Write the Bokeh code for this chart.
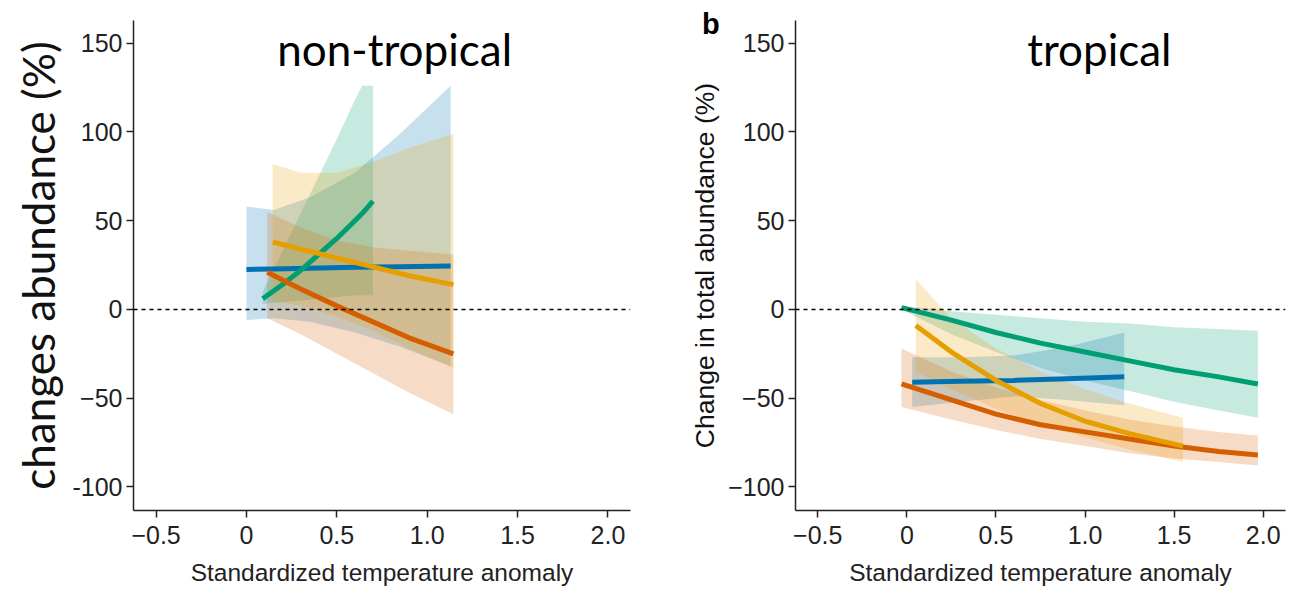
from bokeh.plotting import figure
from bokeh.layouts import row
from bokeh.models import Span, Label, FixedTicker, Range1d, CustomJSTickFormatter, Div
from bokeh.embed import file_html
from bokeh.resources import INLINE

# ---------------- data ----------------
x_ticks = [-0.5, 0, 0.5, 1.0, 1.5, 2.0]
y_ticks = [-100, -50, 0, 50, 100, 150]

# non-tropical panel
nt_blue_x = [0.0, 0.15, 0.35, 0.6, 0.85, 1.13]
nt_blue_y = [22.5, 22.8, 23.2, 23.7, 24.1, 24.5]
nt_blue_lo = [-6, -5, -7, -13, -21, -32]
nt_blue_hi = [58, 56, 63, 77, 99, 126]

nt_green_x = [0.09, 0.2, 0.3, 0.4, 0.5, 0.6, 0.64, 0.7]
nt_green_y = [6, 14, 22, 31, 40, 50, 54, 61]
nt_green_lo = [3, 4, 5, 6, 7, 8, 8, 8]
nt_green_hi = [10, 33, 54, 75, 96, 118, 126, 126]

nt_yellow_x = [0.145, 0.3, 0.5, 0.7, 0.9, 1.145]
nt_yellow_y = [38, 34, 29, 24, 19, 14]
nt_yellow_lo = [5, 2, -4, -12, -22, -33]
nt_yellow_hi = [82, 77, 77, 83, 91, 99]

nt_orange_x = [0.115, 0.3, 0.5, 0.7, 0.9, 1.145]
nt_orange_y = [21, 11.5, 2, -7, -16, -25]
nt_orange_lo = [-5, -14, -25, -36, -47, -59]
nt_orange_hi = [55, 46, 39, 35, 33, 31]

# tropical panel
tr_green_x = [-0.03, 0.25, 0.5, 0.75, 1.0, 1.25, 1.5, 1.75, 1.97]
tr_green_y = [1, -6, -13, -19, -24, -29, -34, -38, -42]
tr_green_lo = [0, -14, -24, -33, -40, -46, -52, -57, -61]
tr_green_hi = [2, -1, -3, -5, -7, -8, -10, -11, -12]

tr_blue_x = [0.03, 0.3, 0.6, 0.9, 1.22]
tr_blue_y = [-41, -40.5, -40, -39, -38]
tr_blue_lo = [-55, -52, -49, -51, -54]
tr_blue_hi = [-27, -27, -26, -21, -13]

tr_yellow_x = [0.05, 0.25, 0.5, 0.75, 1.0, 1.25, 1.55]
tr_yellow_y = [-9, -24, -40, -53, -63, -70, -77]
tr_yellow_lo = [-35, -45, -56, -65, -72, -79, -86]
tr_yellow_hi = [17, -5, -22, -35, -45, -53, -61]

tr_orange_x = [-0.03, 0.25, 0.5, 0.75, 1.0, 1.25, 1.5, 1.75, 1.97]
tr_orange_y = [-42, -51, -59, -65, -69, -73, -77, -80, -82]
tr_orange_lo = [-55, -62, -68, -73, -77, -81, -84, -86, -88]
tr_orange_hi = [-22, -35, -44, -51, -57, -62, -66, -69, -71]

BLUE, GREEN, YELLOW, ORANGE = "#0072B2", "#009E73", "#E69F00", "#D55E00"

X_RANGE = (-0.625, 2.125)
Y_RANGE = (-113.3, 162.8)

AX_FONT = "Liberation Sans"


def base_fig(width, mbl, mbr, ylabel, ylabel_font, ylabel_size, left_hyphen):
    p = figure(width=width, height=588, output_backend="svg", toolbar_location=None,
               x_range=Range1d(*X_RANGE), y_range=Range1d(*Y_RANGE),
               min_border_left=mbl, min_border_right=mbr, min_border_top=20,
               min_border_bottom=71)
    p.outline_line_color = None
    p.xgrid.visible = False
    p.ygrid.visible = False
    p.background_fill_color = "white"
    p.border_fill_color = "white"
    p.xaxis.ticker = FixedTicker(ticks=x_ticks)
    p.yaxis.ticker = FixedTicker(ticks=y_ticks)
    p.xaxis.formatter = CustomJSTickFormatter(code="""
        if (Math.abs(tick) < 1e-9) return "0";
        return (tick < 0 ? "\u2212" : "") + Math.abs(tick).toFixed(1);
    """)
    if left_hyphen:
        code = """
        if (tick == -100) return "-100";
        return tick < 0 ? "\u2212" + Math.abs(tick) : "" + tick;
        """
    else:
        code = """return tick < 0 ? "\u2212" + Math.abs(tick) : "" + tick;"""
    p.yaxis.formatter = CustomJSTickFormatter(code=code)
    for ax in (p.xaxis, p.yaxis):
        ax.axis_line_width = 1.5
        ax.axis_line_color = "#222222"
        ax.major_tick_line_color = "#222222"
        ax.major_tick_line_width = 1.5
        ax.major_tick_out = 7
        ax.major_tick_in = 0
        ax.minor_tick_line_color = None
        ax.major_label_text_font = AX_FONT
        ax.major_label_text_font_size = "25px"
        ax.major_label_text_color = "#222222"
        ax.axis_label_text_font_style = "normal"
    p.yaxis.major_label_standoff = 4
    p.xaxis.major_label_standoff = 8
    p.xaxis.axis_label = "Standardized temperature anomaly"
    p.xaxis.axis_label_text_font = AX_FONT
    p.xaxis.axis_label_text_font_size = "24.5px"
    p.xaxis.axis_label_text_color = "#222222"
    p.xaxis.axis_label_standoff = 12
    p.yaxis.axis_label = ylabel
    p.yaxis.axis_label_text_font = ylabel_font
    p.yaxis.axis_label_text_font_size = ylabel_size
    p.yaxis.axis_label_text_color = "#111111"
    p.yaxis.axis_label_standoff = 5
    return p


def add_series(p, series):
    for x, y, lo, hi, c in series:
        p.varea(x=x, y1=lo, y2=hi, fill_color=c, fill_alpha=0.22)
    p.add_layout(Span(location=0, dimension="width", line_dash="4 4",
                      line_width=1.5, line_color="black"))
    for x, y, lo, hi, c in series:
        p.line(x=x, y=y, line_color=c, line_width=5)


# left panel
p1 = base_fig(665, 133, 35, "changes abundance (%)", "Lato", "44px", True)
add_series(p1, [
    (nt_blue_x, nt_blue_y, nt_blue_lo, nt_blue_hi, BLUE),
    (nt_green_x, nt_green_y, nt_green_lo, nt_green_hi, GREEN),
    (nt_orange_x, nt_orange_y, nt_orange_lo, nt_orange_hi, ORANGE),
    (nt_yellow_x, nt_yellow_y, nt_yellow_lo, nt_yellow_hi, YELLOW),
])
p1.add_layout(Label(x=0.82, y=147, text="non-tropical", text_font="Lato",
                    text_font_size="44px", text_align="center",
                    text_baseline="middle", text_color="black"))

# right panel
p2 = base_fig(639, 130, 19, "Change in total abundance (%)", AX_FONT, "26.5px", False)
add_series(p2, [
    (tr_green_x, tr_green_y, tr_green_lo, tr_green_hi, GREEN),
    (tr_blue_x, tr_blue_y, tr_blue_lo, tr_blue_hi, BLUE),
    (tr_orange_x, tr_orange_y, tr_orange_lo, tr_orange_hi, ORANGE),
    (tr_yellow_x, tr_yellow_y, tr_yellow_lo, tr_yellow_hi, YELLOW),
])
p2.add_layout(Label(x=1.08, y=147, text="tropical", text_font="Lato",
                    text_font_size="44px", text_align="center",
                    text_baseline="middle", text_color="black"))

panel_b = Div(text="b", width=30, height=30,
              styles={"position": "absolute", "left": "697px", "top": "5px",
                      "font-family": "Liberation Sans", "font-weight": "bold",
                      "font-size": "29px", "line-height": "1", "color": "black",
                      "z-index": "10"})

layout = row(p1, p2, panel_b, spacing=0)
open("out.html", "w").write(file_html(layout, INLINE))
